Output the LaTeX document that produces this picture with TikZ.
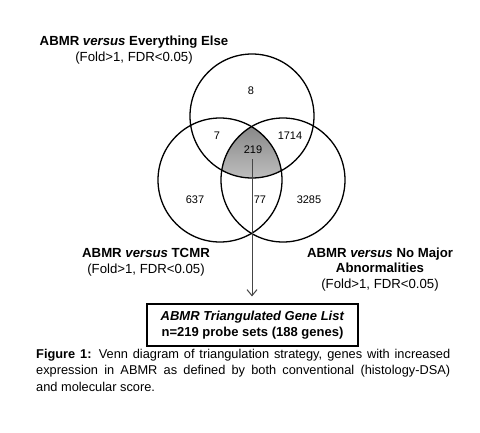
\documentclass[tikz,border=0pt]{standalone}
\usepackage{fontspec}
\setmainfont{Liberation Sans}
\usetikzlibrary{arrows.meta}
\definecolor{shade}{RGB}{150,150,150}
\definecolor{arrowgray}{RGB}{70,70,70}
\tikzset{
  venn/.style={circle, draw=black, line width=1.3pt, minimum size=124pt, inner sep=0pt},
  num/.style={inner sep=0pt, font=\fontsize{11}{12}\selectfont},
  setlabel/.style={inner sep=0pt, align=center, font=\fontsize{13.2}{16}\selectfont},
  resultbox/.style={draw=black, line width=1.2pt, minimum width=211pt, minimum height=42pt, inner sep=0pt, align=center, font=\fontsize{13}{16}\selectfont\bfseries},
  pointer/.style={draw=arrowgray, line width=1pt, -{Straight Barb[length=6pt, width=10pt, line width=1pt]}}
}
\begin{document}
\begin{tikzpicture}[x=1pt,y=-1pt]
\useasboundingbox (0,0) rectangle (480,432);
% shaded triple intersection
\begin{scope}
  \clip (252,116) circle (62pt);
  \clip (220,180) circle (62pt);
  \fill[shade] (283,180) circle (62pt);
\end{scope}
\node[venn] (top) at (252,116) {};
\node[venn] (left) at (220,180) {};
\node[venn] (right) at (283,180) {};
% region counts
\node[num] (n8) at (251,91) {8};
\node[num] (n7) at (217,136) {7};
\node[num] (n1714) at (290,136) {1714};
\node[num] (n219) at (253,150) {219};
\node[num] (n637) at (195,200) {637};
\node[num] (n77) at (260,200) {77};
\node[num] (n3285) at (309,200) {3285};
% set labels
\node[setlabel] (ltop) at (134,50) {\textbf{ABMR \textit{versus} Everything Else}\\(Fold>1, FDR<0.05)};
\node[setlabel] (lleft) at (146,262) {\textbf{ABMR \textit{versus} TCMR}\\(Fold>1, FDR<0.05)};
\node[setlabel, font=\fontsize{13.2}{15.5}\selectfont] (lright) at (380,269.5) {\textbf{ABMR \textit{versus} No Major}\\\textbf{Abnormalities}\\(Fold>1, FDR<0.05)};
% result box
\node[resultbox] (list) at (252.5,325) {\textit{ABMR Triangulated Gene List}\\n=219 probe sets (188 genes)};
\coordinate (start) at (252,159);
\draw[pointer, shorten >=7pt] (start) -- (list.north -| start);
% caption
\node[anchor=north west, inner sep=0pt, text width=414pt, align=justify, font=\fontsize{12.8}{16.5}\selectfont] (caption) at (36,349)
{\textbf{Figure 1:} Venn diagram of triangulation strategy, genes with increased\linebreak expression in ABMR as defined by both conventional (histology-DSA)\linebreak and molecular score.};
\end{tikzpicture}
\end{document}
